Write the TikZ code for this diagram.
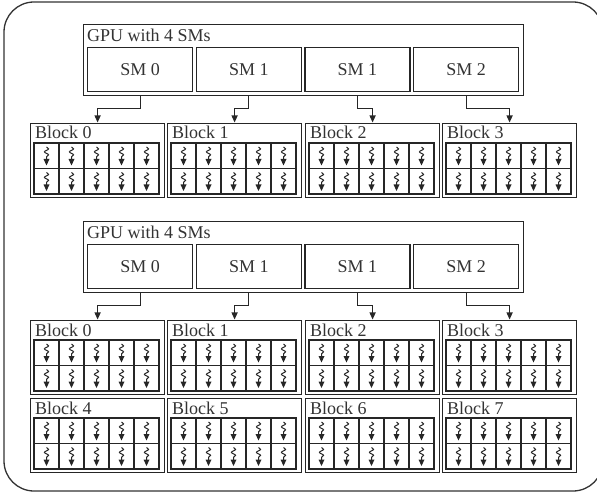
\documentclass[tikz,border=0pt]{standalone}
\usepackage{fontspec}
\setmainfont{Liberation Serif}
\usetikzlibrary{arrows.meta,decorations.pathmorphing}
\begin{document}
\begin{tikzpicture}[x=1pt,y=-1pt,
  frame/.style={draw=black!80, line width=1.3pt, rounded corners=30pt},
  gpubox/.style={draw=black!85, line width=1.4pt, rectangle, minimum width=440pt, minimum height=71pt, inner sep=0pt, anchor=north west},
  smbox/.style={draw=black!85, line width=1.2pt, rectangle, minimum width=105pt, minimum height=44pt, inner sep=0pt, anchor=north west, font=\fontsize{18}{20}\selectfont, text=black!80},
  lbl/.style={anchor=base west, inner sep=0pt, font=\fontsize{18}{20}\selectfont, text=black!80},
  blockbox/.style={draw=black!85, line width=1.2pt, rectangle, minimum width=134pt, minimum height=74pt, inner sep=0pt, anchor=north west},
  gridl/.style={draw=black!85, line width=1.1pt},
  conn/.style={draw=black!85, line width=1.1pt, -{Triangle[length=7pt,width=6pt]}, shorten >=0.5pt},
  thread/.pic={
    \draw[line width=1pt, black!85, decorate, decoration={snake, amplitude=2.1pt, segment length=6pt}] (0,0) -- (0,12.5);
    \fill[black!85] (-3,12) -- (3,12) -- (0,18.5) -- cycle;
  }
]
\useasboundingbox (0,0) rectangle (597,494);
\begin{scope}
\clip (0,0) rectangle (597,494);
\draw[frame] (4,2) rectangle (603,491);
\end{scope}

\newcommand{\gblk}[4]{%
  \node[blockbox] (#1) at (#2,#3) {};
  \node[lbl] (#1t) at (#2+5,#3+16) {#4};
  \draw[gridl] (#2+4,#3+20) rectangle (#2+129,#3+71);
  \draw[gridl] (#2+4,#3+45.5) -- (#2+129,#3+45.5);
  \foreach \i in {1,...,4} \draw[gridl] ({#2+4+25*\i},#3+20) -- ++(0,51);
  \foreach \i in {0,...,4} \foreach \j in {0,1} \pic at ({#2+16.5+25*\i},{#3+24+25.5*\j}) {thread};
}

\newcommand{\gsec}[2]{%
  \node[gpubox] (#1g) at (83,24+#2) {};
  \node[lbl] (#1gt) at (87,42+#2) {GPU with 4 SMs};
  \node[smbox] (#1s0) at (87,47+#2) {SM 0};
  \node[smbox] (#1s1) at (195.7,47+#2) {SM 1};
  \node[smbox] (#1s2) at (304.3,47+#2) {SM 1};
  \node[smbox] (#1s3) at (413,47+#2) {SM 2};
  \gblk{#1b0}{30}{123+#2}{Block 0}
  \gblk{#1b1}{167}{123+#2}{Block 1}
  \gblk{#1b2}{305}{123+#2}{Block 2}
  \gblk{#1b3}{442}{123+#2}{Block 3}
  \draw[conn] (#1s0.south |- #1g.south) -- ++(0,12) -| (#1b0.north);
  \draw[conn] (#1s1.south |- #1g.south) -- ++(0,12) -| (#1b1.north);
  \draw[conn] (#1s2.south |- #1g.south) -- ++(0,12) -| (#1b2.north);
  \draw[conn] (#1s3.south |- #1g.south) -- ++(0,12) -| (#1b3.north);
}

\gsec{a}{0}
\gsec{c}{197}
\gblk{cb4}{30}{398}{Block 4}
\gblk{cb5}{167}{398}{Block 5}
\gblk{cb6}{305}{398}{Block 6}
\gblk{cb7}{442}{398}{Block 7}
\end{tikzpicture}
\end{document}
